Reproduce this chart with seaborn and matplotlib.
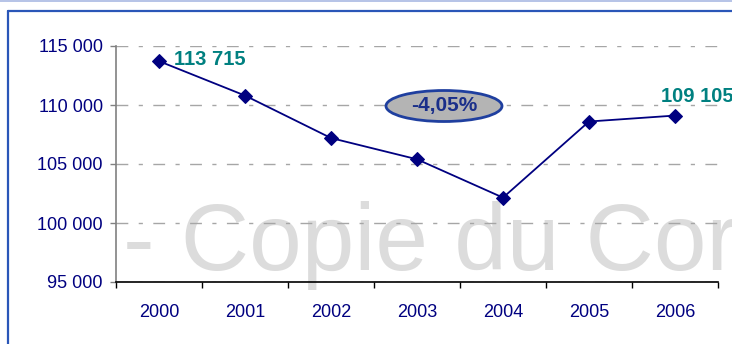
import numpy as np
import pandas as pd
import matplotlib
matplotlib.use("Agg")
import matplotlib.pyplot as plt
from matplotlib.lines import Line2D
from matplotlib.patches import Ellipse
import seaborn as sns

# Effectifs annuels
annees = ["2000", "2001", "2002", "2003", "2004", "2005", "2006"]
valeurs = [113715, 110800, 107200, 105400, 102150, 108600, 109105]
y_ticks = [95000, 100000, 105000, 110000, 115000]
y_tick_labels = ["95 000", "100 000", "105 000", "110 000", "115 000"]
evolution_label = "-4,05%"
filigrane = "- Copie du Correcteur -"

NAVY = "#000080"
TEAL = "#008080"

sns.set_style("white")
plt.rcParams["font.family"] = ["Liberation Sans", "DejaVu Sans"]

df = pd.DataFrame({"annee": annees, "valeur": valeurs})

W, H = 732, 344
fig = plt.figure(figsize=(W / 100, H / 100), dpi=100)
fig.patch.set_facecolor("white")

# frame lines around the chart area
fig.add_artist(Line2D([0, 1], [1 - 0.8 / H, 1 - 0.8 / H], color="#a9b9e3", lw=1.2))
fig.add_artist(Line2D([8 / W, 1], [1 - 10.5 / H, 1 - 10.5 / H], color="#2a56b8", lw=1.6))
fig.add_artist(Line2D([8 / W, 8 / W], [0, 1 - 10.5 / H], color="#2a56b8", lw=1.6))

left, right, top, bottom = 116, 718, 46, 282
ax = fig.add_axes([left / W, 1 - bottom / H, (right - left) / W, (bottom - top) / H])
ax.set_facecolor("none")

# watermark behind the plot
fig.text(123 / W, 1 - 270 / H, filigrane, fontsize=68, color="#dcdcdc",
         ha="left", va="baseline", zorder=-1)

sns.lineplot(data=df, x="annee", y="valeur", ax=ax, sort=False,
             color=NAVY, lw=1.3, marker="D", markersize=7.5,
             markeredgecolor=NAVY, markerfacecolor=NAVY, zorder=3)

ax.set_xlim(-0.5, len(annees) - 0.5)
ax.set_ylim(95000, 115000)
ax.set_yticks(y_ticks)
ax.set_yticklabels(y_tick_labels)
ax.set_xticks(range(len(annees)))
ax.set_xticklabels(annees)
ax.set_xticks(np.arange(-0.5, len(annees)), minor=True)
ax.set_xlabel("")
ax.set_ylabel("")

for lab in ax.get_xticklabels() + ax.get_yticklabels():
    lab.set_fontsize(13)
    lab.set_color(NAVY)

ax.tick_params(axis="x", which="major", length=0, pad=16)
ax.tick_params(axis="x", which="minor", length=4.5, width=1, color="black", direction="out", bottom=True)
ax.tick_params(axis="y", which="major", length=4.5, width=1, color="#808080", direction="out", left=True, pad=5)

ax.set_axisbelow(True)
ax.yaxis.grid(True, color="#a6a6a6", lw=1.0, linestyle=(0, (8.5, 7.5, 3, 7.5)))
ax.xaxis.grid(False)

for s in ["top", "right"]:
    ax.spines[s].set_visible(False)
ax.spines["left"].set_color("#808080")
ax.spines["left"].set_linewidth(1.2)
ax.spines["bottom"].set_color("black")
ax.spines["bottom"].set_linewidth(1.2)

fmt = lambda v: f"{v:,}".replace(",", " ")
ax.annotate(fmt(valeurs[0]), (0, valeurs[0]), xytext=(11, 1.5), textcoords="offset points",
            ha="left", va="center", fontsize=14.5, fontweight="bold", color=TEAL, zorder=4)
ax.annotate(fmt(valeurs[-1]), (len(annees) - 1, valeurs[-1]), xytext=(16, 13.5),
            textcoords="offset points", ha="center", va="center", fontsize=14.5,
            fontweight="bold", color=TEAL, annotation_clip=False, zorder=4)

# evolution badge
fig.add_artist(Ellipse((444 / W, 1 - 106 / H), 116 / W, 31 / H, transform=fig.transFigure,
                       facecolor="#b4b4b4", edgecolor="#1f3f9f", lw=2.0, zorder=5))
fig.text(444 / W, 1 - 106 / H, evolution_label, ha="center", va="center", fontsize=15,
         fontweight="bold", color="#1a2f8a", zorder=6)

fig.savefig("out.png", dpi=100)
